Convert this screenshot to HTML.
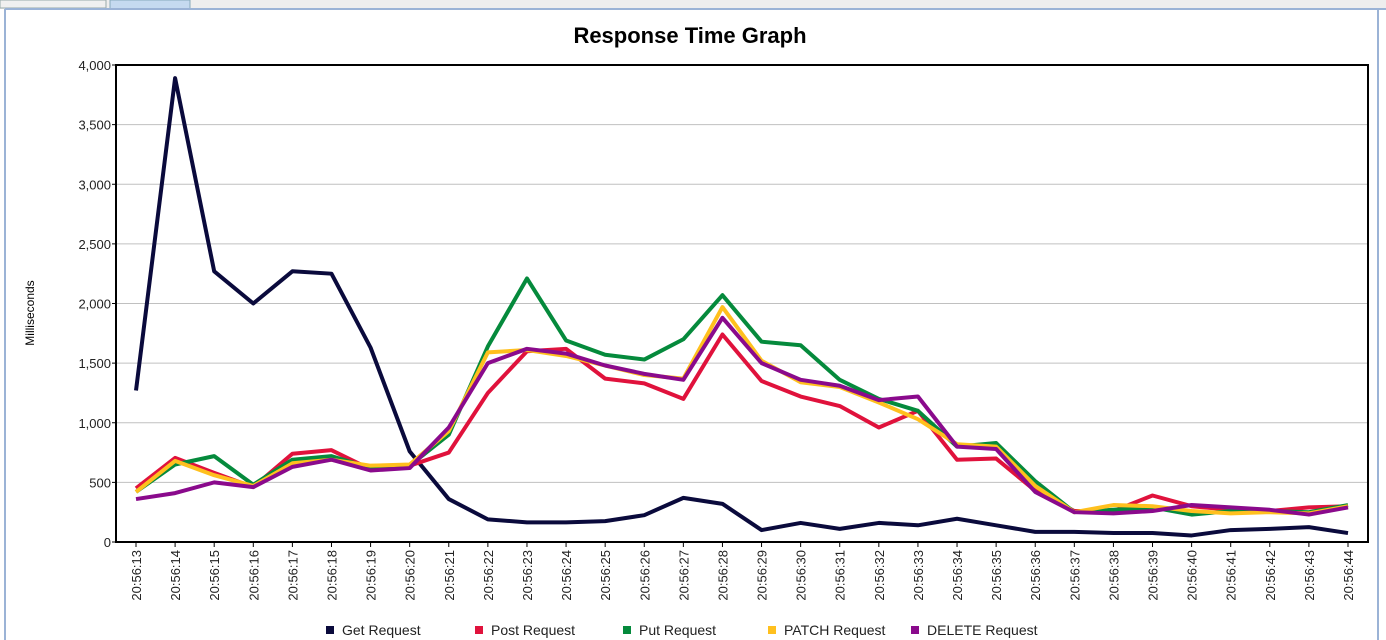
<!DOCTYPE html>
<html><head><meta charset="utf-8"><style>
body{margin:0;width:1386px;height:640px;overflow:hidden;background:#fff;font-family:"Liberation Sans",sans-serif}
</style></head><body>
<svg width="1386" height="640" style="position:absolute;left:0;top:0">
<rect x="0" y="0" width="1386" height="9" fill="#eeeeee"/>
<rect x="0" y="0" width="106" height="8" fill="#f0f0f0" stroke="#9aa"/>
<rect x="110" y="0" width="80" height="9" fill="#c5daf0" stroke="#8ab"/>
<line x1="5" y1="9" x2="1386" y2="9" stroke="#9bb3d6" stroke-width="2"/>
<line x1="5" y1="9" x2="5" y2="640" stroke="#9bb3d6" stroke-width="2"/>
<line x1="1378" y1="9" x2="1378" y2="640" stroke="#9bb3d6" stroke-width="2"/>
<text x="690" y="43" text-anchor="middle" font-size="22" font-weight="bold">Response Time Graph</text>
<text x="34" y="313" text-anchor="middle" font-size="12" transform="rotate(-90 34 313)">Milliseconds</text>
<g id="grid"></g><g id="series"></g><g id="axes"></g><g id="legend"></g>
</svg>
<script>
const categories=["20:56:13","20:56:14","20:56:15","20:56:16","20:56:17","20:56:18","20:56:19","20:56:20","20:56:21","20:56:22","20:56:23","20:56:24","20:56:25","20:56:26","20:56:27","20:56:28","20:56:29","20:56:30","20:56:31","20:56:32","20:56:33","20:56:34","20:56:35","20:56:36","20:56:37","20:56:38","20:56:39","20:56:40","20:56:41","20:56:42","20:56:43","20:56:44"];
const yTicks=[0,500,1000,1500,2000,2500,3000,3500,4000];
const seriesNames=["Get Request","Post Request","Put Request","PATCH Request","DELETE Request"];
const getVals=[1270,3890,2270,2000,2270,2250,1630,760,360,190,165,165,175,225,370,320,100,160,110,160,140,195,140,85,85,75,75,55,100,110,125,75];
const postVals=[450,705,580,460,740,770,610,640,750,1250,1600,1620,1370,1330,1200,1740,1350,1220,1140,960,1100,690,700,430,260,260,390,300,270,260,290,300];
const putVals=[420,650,720,480,690,720,620,640,900,1640,2210,1690,1570,1530,1700,2070,1680,1650,1360,1200,1100,800,830,510,250,270,290,230,260,260,250,310];
const patchVals=[420,680,560,470,660,690,640,650,930,1590,1610,1560,1480,1400,1370,1970,1520,1340,1300,1170,1030,820,800,470,250,310,300,260,240,250,240,300];
const deleteVals=[360,410,500,460,630,690,600,620,960,1500,1620,1580,1480,1410,1360,1880,1500,1360,1310,1190,1220,800,780,420,250,240,260,310,290,270,230,290];
const colors=["#0a0a3c","#e0123c","#058a3c","#ffc01e","#8a0a8c"];
const NS="http://www.w3.org/2000/svg";
const L=116,R=1368,T=65,B=542,X0=136,X1=1348;
const xs=i=>X0+i*(X1-X0)/(categories.length-1);
const ys=v=>B-v*(B-T)/4000;
function mk(t,a,p){const e=document.createElementNS(NS,t);for(const k in a)e.setAttribute(k,a[k]);p.appendChild(e);return e;}
const grid=document.getElementById('grid'),axes=document.getElementById('axes'),ser=document.getElementById('series'),leg=document.getElementById('legend');
mk('rect',{x:L,y:T,width:R-L,height:B-T,fill:'#fff'},grid);
yTicks.forEach(v=>{
 if(v>0&&v<4000){const g=mk('line',{x1:L,x2:R,y1:ys(v),y2:ys(v),stroke:'#c0c0c0'},grid);
 
 }
 mk('line',{x1:L-4,x2:L,y1:ys(v),y2:ys(v),stroke:'#000'},axes);
 const t=mk('text',{x:L-5,y:ys(v)+5,'text-anchor':'end','font-size':13,fill:'#222'},axes);t.textContent=v.toLocaleString('en-US');
 
 
});
categories.forEach((c,i)=>{
 const x=xs(i);mk('line',{x1:x,x2:x,y1:B,y2:B+5,stroke:'#000'},axes);
 const t=mk('text',{x:x+5,y:B+8,'text-anchor':'end','font-size':13,fill:'#222',transform:`rotate(-90 ${x+5} ${B+8})`},axes);t.textContent=c;
 
 
});
mk('rect',{x:L,y:T,width:R-L,height:B-T,fill:'none',stroke:'#000','stroke-width':2},axes);
[getVals,postVals,putVals,patchVals,deleteVals].forEach((vals,s)=>{
 const p=mk('polyline',{points:vals.map((v,i)=>xs(i)+','+ys(v)).join(' '),fill:'none',stroke:colors[s],'stroke-width':4,'stroke-linejoin':'round'},ser);
 
 
});
const legX=[326,475,623,768,911];
seriesNames.forEach((n,s)=>{
 const g=mk('g',{},leg);
 
 
 mk('rect',{x:legX[s],y:626,width:8,height:8,fill:colors[s]},g);
 const t=mk('text',{x:legX[s]+16,y:635,'font-size':14,fill:'#222'},g);t.textContent=n;
});
</script>
</body></html>
